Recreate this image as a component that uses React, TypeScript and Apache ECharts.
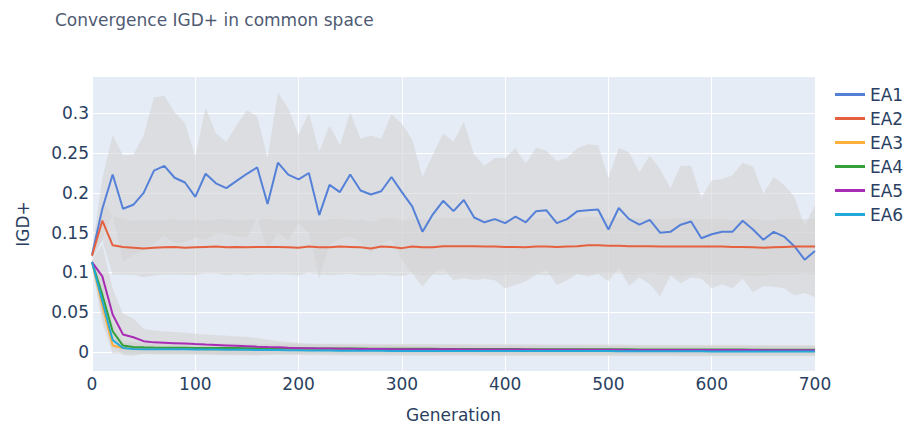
import { useEffect, useRef } from "react";
import * as echarts from "echarts";

const generations = [
  0, 10, 20, 30, 40, 50, 60, 70, 80, 90,
  100, 110, 120, 130, 140, 150, 160, 170, 180, 190,
  200, 210, 220, 230, 240, 250, 260, 270, 280, 290,
  300, 310, 320, 330, 340, 350, 360, 370, 380, 390,
  400, 410, 420, 430, 440, 450, 460, 470, 480, 490,
  500, 510, 520, 530, 540, 550, 560, 570, 580, 590,
  600, 610, 620, 630, 640, 650, 660, 670, 680, 690,
  700,
];

const ea1Mean = [
  0.122, 0.180, 0.223, 0.180, 0.185, 0.200, 0.228, 0.234, 0.219, 0.213,
  0.195, 0.224, 0.212, 0.206, 0.215, 0.224, 0.232, 0.186, 0.238, 0.223,
  0.217, 0.225, 0.172, 0.210, 0.201, 0.223, 0.203, 0.198, 0.202, 0.220,
  0.201, 0.183, 0.151, 0.173, 0.190, 0.177, 0.191, 0.169, 0.163, 0.167,
  0.162, 0.170, 0.163, 0.177, 0.178, 0.162, 0.167, 0.177, 0.178, 0.179,
  0.154, 0.181, 0.167, 0.160, 0.166, 0.150, 0.151, 0.160, 0.164, 0.143,
  0.148, 0.151, 0.151, 0.165, 0.154, 0.141, 0.151, 0.145, 0.133, 0.116,
  0.127,
];
const ea1Std = [
  0.004, 0.038, 0.050, 0.067, 0.063, 0.072, 0.092, 0.088, 0.082, 0.075,
  0.051, 0.083, 0.063, 0.058, 0.070, 0.080, 0.064, 0.058, 0.088, 0.083,
  0.056, 0.075, 0.080, 0.075, 0.059, 0.078, 0.065, 0.074, 0.066, 0.079,
  0.086, 0.084, 0.069, 0.075, 0.085, 0.087, 0.098, 0.079, 0.071, 0.077,
  0.082, 0.086, 0.074, 0.080, 0.075, 0.078, 0.077, 0.079, 0.083, 0.081,
  0.065, 0.075, 0.084, 0.066, 0.081, 0.080, 0.055, 0.074, 0.070, 0.051,
  0.068, 0.066, 0.071, 0.073, 0.079, 0.058, 0.069, 0.065, 0.062, 0.042,
  0.058,
];

const ea2Mean = [
  0.121, 0.165, 0.134, 0.132, 0.131, 0.130, 0.131, 0.1315, 0.132, 0.131,
  0.1315, 0.132, 0.1325, 0.1315, 0.132, 0.1315, 0.132, 0.132, 0.132, 0.1315,
  0.131, 0.1325, 0.1315, 0.1315, 0.1325, 0.132, 0.1315, 0.130, 0.1325, 0.132,
  0.1305, 0.1325, 0.1315, 0.1315, 0.133, 0.133, 0.133, 0.133, 0.1325, 0.1325,
  0.132, 0.132, 0.1315, 0.1325, 0.1325, 0.132, 0.1325, 0.133, 0.134, 0.134,
  0.1335, 0.1335, 0.133, 0.133, 0.133, 0.1325, 0.1325, 0.1325, 0.1325, 0.1325,
  0.1325, 0.1325, 0.132, 0.132, 0.1315, 0.131, 0.1315, 0.132, 0.1325, 0.1325,
  0.1325,
];
const ea2Std = [
  0.004, 0.025, 0.037, 0.035, 0.034, 0.036, 0.035, 0.034, 0.035, 0.034,
  0.035, 0.033, 0.034, 0.035, 0.034, 0.035, 0.034, 0.035, 0.034, 0.034,
  0.035, 0.033, 0.034, 0.035, 0.035, 0.034, 0.035, 0.034, 0.035, 0.036,
  0.035, 0.034, 0.035, 0.034, 0.036, 0.035, 0.035, 0.036, 0.035, 0.036,
  0.035, 0.034, 0.035, 0.035, 0.036, 0.035, 0.034, 0.035, 0.036, 0.035,
  0.034, 0.035, 0.036, 0.035, 0.034, 0.035, 0.035, 0.036, 0.035, 0.034,
  0.035, 0.035, 0.034, 0.035, 0.036, 0.035, 0.034, 0.035, 0.035, 0.034,
  0.035,
];

const ea3Mean = [
  0.113, 0.058, 0.008, 0.005, 0.0045, 0.0042, 0.004, 0.0039, 0.0038, 0.0037,
  0.0036, 0.0035, 0.0035, 0.0034, 0.0034, 0.0033, 0.0033, 0.0032, 0.0032, 0.0031,
  0.0031, 0.003, 0.003, 0.003, 0.0029, 0.0029, 0.0028, 0.0028, 0.0027, 0.0027,
  0.0026, 0.0026, 0.0025, 0.0025, 0.0025, 0.0024, 0.0024, 0.0023, 0.0023, 0.0022,
  0.0022, 0.0022, 0.0021, 0.0021, 0.0021, 0.002, 0.002, 0.002, 0.0019, 0.0019,
  0.0019, 0.0018, 0.0018, 0.0018, 0.0017, 0.0017, 0.0017, 0.0016, 0.0016, 0.0016,
  0.0016, 0.0015, 0.0015, 0.0015, 0.0015, 0.0014, 0.0014, 0.0014, 0.0014, 0.0013,
  0.0013,
];
const ea3Std = [
  0.003, 0.022, 0.010, 0.007, 0.0068, 0.0066, 0.0065, 0.0064, 0.0064, 0.0063,
  0.0063, 0.0062, 0.0062, 0.0062, 0.0061, 0.0061, 0.0061, 0.006, 0.006, 0.006,
  0.006, 0.006, 0.006, 0.006, 0.006, 0.006, 0.006, 0.006, 0.006, 0.006,
  0.006, 0.006, 0.006, 0.006, 0.006, 0.006, 0.006, 0.006, 0.006, 0.006,
  0.006, 0.006, 0.006, 0.006, 0.006, 0.006, 0.006, 0.006, 0.006, 0.006,
  0.006, 0.006, 0.006, 0.006, 0.006, 0.006, 0.006, 0.006, 0.006, 0.006,
  0.006, 0.006, 0.006, 0.006, 0.006, 0.006, 0.006, 0.006, 0.006, 0.006,
  0.006,
];

const ea4Mean = [
  0.113, 0.072, 0.026, 0.008, 0.0062, 0.0058, 0.0055, 0.0053, 0.0052, 0.0051,
  0.005, 0.0049, 0.0049, 0.0048, 0.0048, 0.0047, 0.0047, 0.0046, 0.0046, 0.0045,
  0.0045, 0.0044, 0.0044, 0.0043, 0.0043, 0.0042, 0.0042, 0.0041, 0.0041, 0.004,
  0.004, 0.004, 0.0039, 0.0039, 0.0038, 0.0038, 0.0038, 0.0037, 0.0037, 0.0036,
  0.0036, 0.0036, 0.0035, 0.0035, 0.0034, 0.0034, 0.0034, 0.0033, 0.0033, 0.0033,
  0.0032, 0.0032, 0.0032, 0.0031, 0.0031, 0.0031, 0.003, 0.003, 0.003, 0.003,
  0.0029, 0.0029, 0.0029, 0.0029, 0.0028, 0.0028, 0.0028, 0.0028, 0.0027, 0.0027,
  0.0027,
];
const ea4Std = [
  0.003, 0.020, 0.012, 0.007, 0.0065, 0.0063, 0.0062, 0.0061, 0.006, 0.006,
  0.006, 0.006, 0.006, 0.006, 0.006, 0.006, 0.006, 0.006, 0.006, 0.006,
  0.006, 0.006, 0.006, 0.006, 0.006, 0.006, 0.006, 0.006, 0.006, 0.006,
  0.006, 0.006, 0.006, 0.006, 0.006, 0.006, 0.006, 0.006, 0.006, 0.006,
  0.006, 0.006, 0.006, 0.006, 0.006, 0.006, 0.006, 0.006, 0.006, 0.006,
  0.006, 0.006, 0.006, 0.006, 0.006, 0.006, 0.006, 0.006, 0.006, 0.006,
  0.006, 0.006, 0.006, 0.006, 0.006, 0.006, 0.006, 0.006, 0.006, 0.006,
  0.006,
];

const ea5Mean = [
  0.113, 0.095, 0.047, 0.022, 0.0185, 0.0135, 0.012, 0.0115, 0.011, 0.0105,
  0.0098, 0.0092, 0.0087, 0.0082, 0.0077, 0.0072, 0.0066, 0.0061, 0.0058, 0.0052,
  0.0047, 0.0045, 0.0043, 0.0042, 0.004, 0.0039, 0.0038, 0.0037, 0.0036, 0.0035,
  0.0034, 0.0034, 0.0033, 0.0033, 0.0032, 0.0032, 0.0031, 0.0031, 0.003, 0.003,
  0.003, 0.0029, 0.0029, 0.0028, 0.0028, 0.0028, 0.0027, 0.0027, 0.0027, 0.0026,
  0.0026, 0.0026, 0.0025, 0.0025, 0.0025, 0.0025, 0.0024, 0.0024, 0.0024, 0.0024,
  0.0023, 0.0023, 0.0023, 0.0023, 0.0023, 0.0022, 0.0022, 0.0022, 0.0022, 0.0022,
  0.0022,
];
const ea5Std = [
  0.003, 0.040, 0.032, 0.026, 0.0235, 0.0155, 0.015, 0.0145, 0.014, 0.0135,
  0.013, 0.0128, 0.0125, 0.012, 0.0118, 0.0115, 0.011, 0.0095, 0.008, 0.0072,
  0.0065, 0.006, 0.0055, 0.005, 0.0048, 0.0045, 0.0045, 0.0045, 0.0045, 0.0045,
  0.0046, 0.0046, 0.0046, 0.0046, 0.0047, 0.0047, 0.0047, 0.0047, 0.0048, 0.0048,
  0.0048, 0.0048, 0.0049, 0.0049, 0.0049, 0.0049, 0.005, 0.005, 0.005, 0.005,
  0.005, 0.005, 0.005, 0.005, 0.005, 0.005, 0.005, 0.005, 0.005, 0.005,
  0.005, 0.005, 0.005, 0.005, 0.005, 0.005, 0.005, 0.005, 0.005, 0.005,
  0.005,
];

const ea6Mean = [
  0.113, 0.064, 0.015, 0.005, 0.0037, 0.0034, 0.0033, 0.0033, 0.0032, 0.0032,
  0.0031, 0.003, 0.0029, 0.0028, 0.0027, 0.0026, 0.0025, 0.0024, 0.0023, 0.0021,
  0.002, 0.0019, 0.0018, 0.0017, 0.0016, 0.0015, 0.0015, 0.0014, 0.0014, 0.0013,
  0.0013, 0.0012, 0.0012, 0.0012, 0.0011, 0.0011, 0.0011, 0.0011, 0.001, 0.001,
  0.001, 0.001, 0.001, 0.001, 0.001, 0.001, 0.001, 0.001, 0.001, 0.001,
  0.001, 0.0009, 0.0009, 0.0009, 0.0008, 0.0008, 0.0008, 0.0007, 0.0007, 0.0007,
  0.0006, 0.0006, 0.0006, 0.0005, 0.0005, 0.0005, 0.0005, 0.0004, 0.0004, 0.0004,
  0.0004,
];
const ea6Std = [
  0.003, 0.022, 0.010, 0.007, 0.0065, 0.0063, 0.0062, 0.0061, 0.006, 0.006,
  0.006, 0.006, 0.006, 0.006, 0.006, 0.006, 0.006, 0.006, 0.006, 0.006,
  0.006, 0.006, 0.006, 0.006, 0.006, 0.006, 0.006, 0.006, 0.006, 0.006,
  0.006, 0.006, 0.006, 0.006, 0.006, 0.006, 0.006, 0.006, 0.006, 0.006,
  0.006, 0.006, 0.006, 0.006, 0.006, 0.006, 0.006, 0.006, 0.006, 0.006,
  0.006, 0.006, 0.006, 0.006, 0.006, 0.006, 0.006, 0.006, 0.006, 0.006,
  0.006, 0.006, 0.006, 0.006, 0.006, 0.006, 0.006, 0.006, 0.006, 0.006,
  0.006,
];

const seriesNames = ["EA1", "EA2", "EA3", "EA4", "EA5", "EA6"];
const means = [ea1Mean, ea2Mean, ea3Mean, ea4Mean, ea5Mean, ea6Mean];
const stds = [ea1Std, ea2Std, ea3Std, ea4Std, ea5Std, ea6Std];
const colors = ["#5580d8", "#e5603e", "#ffb03c", "#34a039", "#a92cb4", "#22a8d9"];

const FONT = "DejaVu Sans, Verdana, sans-serif";
const TEXT = "#2a3f5f";
const BAND = "rgba(211,211,211,0.6)";

function buildOption() {
  const series: any[] = [];
  seriesNames.forEach((name, k) => {
    const mean = means[k];
    const std = stds[k];
    const band = generations.map((g, i) => [g, mean[i] - std[i], mean[i] + std[i]]);
    series.push({
      type: "custom",
      name: name + " band",
      silent: true,
      data: band,
      encode: { x: 0, y: [1, 2] },
      renderItem: (params: any, api: any) => {
        if (params.dataIndex !== 0) return null;
        const up = band.map((d) => api.coord([d[0], d[2]]));
        const lo = band.map((d) => api.coord([d[0], d[1]])).reverse();
        return {
          type: "polygon",
          shape: { points: up.concat(lo) },
          style: { fill: BAND },
          silent: true,
        };
      },
    });
    series.push({
      type: "line",
      name,
      data: generations.map((g, i) => [g, mean[i]]),
      symbol: "none",
      showSymbol: false,
      color: colors[k],
      lineStyle: { width: 2, color: colors[k] },
      emphasis: { disabled: true },
    });
  });

  return {
    animation: false,
    backgroundColor: "#ffffff",
    title: {
      text: "Convergence IGD+ in common space",
      left: 55,
      top: 11,
      padding: 0,
      textStyle: { fontSize: 17, fontWeight: "normal", color: "#4f5b73", fontFamily: FONT },
    },
    legend: {
      data: seriesNames.map((n) => ({ name: n, icon: "rect" })),
      orient: "vertical",
      left: 835,
      top: 86,
      padding: 0,
      itemWidth: 30,
      itemHeight: 3,
      itemGap: 7,
      textStyle: { fontSize: 17, color: TEXT, fontFamily: FONT },
    },
    grid: {
      left: 92,
      right: 89,
      top: 77,
      bottom: 54,
      show: true,
      backgroundColor: "#E5ECF6",
      borderWidth: 0,
      containLabel: false,
    },
    xAxis: {
      type: "value",
      min: 0,
      max: 700,
      interval: 100,
      name: "Generation",
      nameLocation: "middle",
      nameGap: 35,
      nameTextStyle: { fontSize: 17, color: TEXT, fontFamily: FONT },
      axisLine: { show: false },
      axisTick: { show: false },
      axisLabel: { fontSize: 17, color: TEXT, fontFamily: FONT, margin: 4 },
      splitLine: { show: true, lineStyle: { color: "#ffffff", width: 1 } },
    },
    yAxis: {
      type: "value",
      min: -0.024,
      max: 0.3457,
      splitNumber: 7,
      name: "IGD+",
      nameLocation: "middle",
      nameGap: 61,
      nameRotate: 90,
      nameTextStyle: { fontSize: 17, color: TEXT, fontFamily: FONT },
      axisLine: { show: false },
      axisTick: { show: false },
      axisLabel: {
        fontSize: 17,
        color: TEXT,
        fontFamily: FONT,
        margin: 3,
        showMinLabel: false,
        showMaxLabel: false,
      },
      splitLine: {
        show: true,
        showMinLine: false,
        showMaxLine: false,
        lineStyle: { color: "#ffffff", width: 1 },
      },
    },
    series,
  };
}

export default function App() {
  const ref = useRef<HTMLDivElement>(null);
  useEffect(() => {
    document.body.style.margin = "0";
    const chart = echarts.init(ref.current!, null, { renderer: "svg" });
    chart.setOption(buildOption() as any);
    return () => chart.dispose();
  }, []);
  return (
    <div
      ref={ref}
      style={{ position: "absolute", left: 0, top: 0, width: 904, height: 428 }}
    />
  );
}
